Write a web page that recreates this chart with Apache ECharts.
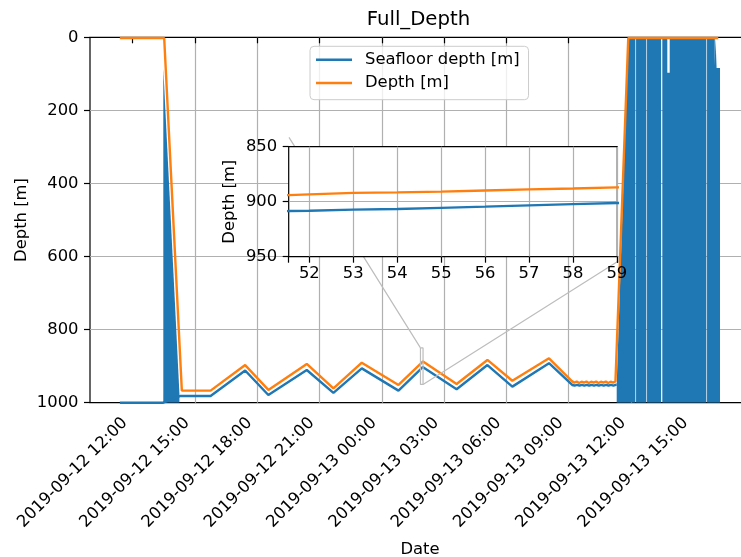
<!DOCTYPE html>
<html><head><meta charset="utf-8">
<script src="https://cdn.jsdelivr.net/npm/echarts@6/dist/echarts.min.js"></script>
<style>html,body{margin:0;padding:0;background:#fff}#c{width:741px;height:557px}</style>
</head><body><div id="c"></div>
<script>
// ---------------- data ----------------
const depthTimes = [
 '2019-09-12 11:23','2019-09-12 13:31','2019-09-12 14:22','2019-09-12 15:45','2019-09-12 17:25',
 '2019-09-12 18:32','2019-09-12 20:23','2019-09-12 21:40','2019-09-12 23:02','2019-09-13 00:48',
 '2019-09-13 01:51:32','2019-09-13 01:52','2019-09-13 01:53','2019-09-13 01:54','2019-09-13 01:55',
 '2019-09-13 01:56','2019-09-13 01:57','2019-09-13 01:58','2019-09-13 01:59','2019-09-13 02:00',
 '2019-09-13 03:36','2019-09-13 05:05','2019-09-13 06:17','2019-09-13 08:03','2019-09-13 09:09',
 '2019-09-13 09:16','2019-09-13 09:23','2019-09-13 09:30','2019-09-13 09:37','2019-09-13 09:44',
 '2019-09-13 09:51','2019-09-13 09:58','2019-09-13 10:05','2019-09-13 10:12','2019-09-13 10:19',
 '2019-09-13 10:26','2019-09-13 10:33','2019-09-13 10:40','2019-09-13 10:47','2019-09-13 10:54',
 '2019-09-13 11:01','2019-09-13 11:08','2019-09-13 11:15','2019-09-13 11:19',
 '2019-09-13 11:52','2019-09-13 16:12'];
const depthValues = [
 2,2,967,967,897,
 965,894,961,890.5,951.5,
 894,893.3,892,891.5,890.8,
 889.8,888.8,888,887,886.5,
 948.8,883,940,878.5,941,
 945,942,946,942.5,945,
 942,946,942.5,945,942,
 946,942.5,945,942,946,
 942.5,945,942,943,
 2,2];

const seafloorTimes = [
 '2019-09-12 11:23','2019-09-12 13:28','2019-09-12 14:18','2019-09-12 15:45','2019-09-12 17:25',
 '2019-09-12 18:32','2019-09-12 20:23','2019-09-12 21:40','2019-09-12 23:02','2019-09-13 00:48',
 '2019-09-13 01:51:32','2019-09-13 01:52','2019-09-13 01:53','2019-09-13 01:54','2019-09-13 01:55',
 '2019-09-13 01:56','2019-09-13 01:57','2019-09-13 01:58','2019-09-13 01:59','2019-09-13 02:00',
 '2019-09-13 03:36','2019-09-13 05:05','2019-09-13 06:17','2019-09-13 08:03','2019-09-13 09:10',
 '2019-09-13 09:17','2019-09-13 09:24','2019-09-13 09:31','2019-09-13 09:38','2019-09-13 09:45',
 '2019-09-13 09:52','2019-09-13 09:59','2019-09-13 10:06','2019-09-13 10:13','2019-09-13 10:20',
 '2019-09-13 10:27','2019-09-13 10:34','2019-09-13 10:41','2019-09-13 10:48','2019-09-13 10:55',
 '2019-09-13 11:02','2019-09-13 11:09','2019-09-13 11:16','2019-09-13 11:18:36'];
const seafloorValues = [
 1000,1000,981.5,981.5,912,
 979,910.5,973,906,967,
 908.5,908.2,907.2,906.6,905.6,
 904.5,903.3,902.2,901.2,900.5,
 963,897,956,892,951.5,
 953,951,953.5,951,953,
 951,953.5,951,953,951,
 953.5,951,953,951,953.5,
 951,953,951,951];

// dense seafloor spikes (alternating surface/bottom readings) seen as filled blue blocks; top edge of the block
const spikeLeftTimes = ['2019-09-12 13:28:25','2019-09-12 14:15'];
const spikeLeftTops  = [85, 975];
const spikeRightTimes = [
 '2019-09-13 11:18:36','2019-09-13 11:52','2019-09-13 12:12:34','2019-09-13 12:13:34','2019-09-13 12:14:34',
 '2019-09-13 12:44:18','2019-09-13 12:45:18','2019-09-13 12:46:18','2019-09-13 13:26:55','2019-09-13 13:28:40',
 '2019-09-13 13:30:25','2019-09-13 13:44:49','2019-09-13 13:44:49','2019-09-13 13:51:46','2019-09-13 13:51:46',
 '2019-09-13 15:37:42','2019-09-13 15:38:42','2019-09-13 15:39:42','2019-09-13 16:02','2019-09-13 16:02',
 '2019-09-13 16:04','2019-09-13 16:04','2019-09-13 16:07:19','2019-09-13 16:07:19','2019-09-13 16:17:09'];
const spikeRightTops = [
 951,0,0,null,0,
 0,null,0,0,null,
 0,0,97,97,0,
 0,null,0,0,80,
 80,0,0,84,84];

// axes / ticks
const xTickHours = [12,15,18,21,24,27,30,33,36,39];   // hours after 2019-09-12 00:00
const yTicks = [0,200,400,600,800,1000];
const mainHourRange = [9.9435, 41.73];
const insetMinuteRange = [51.53, 59.01];              // minutes after 2019-09-13 01:00
const insetDepthRange = [850, 950];
const connectorEndTimes = ['2019-09-12 19:31:40','2019-09-13 11:22:24'];
const connectorEndDepths = [274, 613];

// ---------------- helpers ----------------
function toHours(s){
  const [d,t] = s.split(' ');
  const day = +d.split('-')[2];
  const p = t.split(':').map(Number);
  return (day-12)*24 + p[0] + p[1]/60 + (p[2]||0)/3600;
}
const pair = (ts, vs) => ts.map((t,i) => [toHours(t), vs[i] == null ? '-' : vs[i]]);
const toInset = arr => arr.map(p => [(p[0]-25)*60, p[1]]);
const pad2 = n => (n<10?'0':'')+n;
const hourLabel = v => { const h=Math.round(v); return '2019-09-'+(12+Math.floor(h/24))+' '+pad2(h%24)+':00'; };

const seafloor = pair(seafloorTimes, seafloorValues);
const depth = pair(depthTimes, depthValues);
const boxH0 = 25 + insetMinuteRange[0]/60, boxH1 = 25 + insetMinuteRange[1]/60;
const boxData = [[boxH0,insetDepthRange[0]],[boxH1,insetDepthRange[0]],[boxH1,insetDepthRange[1]],[boxH0,insetDepthRange[1]],[boxH0,insetDepthRange[0]]];
const connData = [[boxH0,insetDepthRange[0]],[toHours(connectorEndTimes[0]),connectorEndDepths[0]],['-','-'],
                  [boxH1,insetDepthRange[1]],[toHours(connectorEndTimes[1]),connectorEndDepths[1]]];

const BLUE='#1f77b4', ORANGE='#ff7f0e', GRID='#b0b0b0', FONT='DejaVu Sans', FS=16.4;
const tickOf = vals => ({show:true, length:6, customValues:vals, lineStyle:{color:'#000', width:1.2}});
const tickPlain = {show:true, length:6, lineStyle:{color:'#000', width:1.2}};
const split = {show:true, showMinLine:false, showMaxLine:false, lineStyle:{color:GRID, width:1.2}};
const nameStyle = {fontFamily:FONT, fontSize:FS, color:'#000'};

const chart = echarts.init(document.getElementById('c'), null, {renderer:'canvas'});
chart.setOption({
  animation:false,
  textStyle:{fontFamily:FONT},
  title:{text:'Full_Depth', left:366.7, top:10, padding:0,
         textStyle:{fontFamily:FONT, fontSize:19.7, fontWeight:'normal', color:'#000'}},
  legend:{data:['Seafloor depth [m]','Depth [m]'], orient:'vertical', left:310, top:46.3,
          icon:'rect', padding:[4.4,9,7.7,6], itemWidth:36, itemHeight:2.4, itemGap:5.3,
          backgroundColor:'rgba(255,255,255,0.8)', borderColor:'#cccccc', borderWidth:1, borderRadius:4,
          textStyle:{fontFamily:FONT, fontSize:FS, color:'#000', lineHeight:18, padding:[0,0,0,8]}},
  grid:[
    {left:90, top:37.3, right:-9, bottom:154.3, show:true, borderColor:'#000', borderWidth:1.2,
     backgroundColor:'transparent', containLabel:false, outerBoundsMode:'none'},
    {left:288.7, top:146.7, width:328.6, height:110, show:true, backgroundColor:'#fff', borderColor:'#000',
     borderWidth:1.2, z:5, containLabel:false, outerBoundsMode:'none'}
  ],
  xAxis:[
    {type:'value', gridIndex:0, min:mainHourRange[0], max:mainHourRange[1],
     minInterval:3, maxInterval:3, splitNumber:10,
     name:'Date', nameLocation:'middle', nameGap:139, nameMoveOverlap:false, nameTextStyle:nameStyle,
     axisLine:{show:false}, axisTick:tickOf(xTickHours), splitLine:split,
     axisLabel:{customValues:xTickHours, rotate:45, margin:10, padding:[0,11,0,0], fontFamily:FONT, fontSize:FS,
       color:'#000', hideOverlap:false, formatter:hourLabel}},
    {type:'value', gridIndex:1, min:insetMinuteRange[0], max:insetMinuteRange[1],
     minInterval:1, maxInterval:1, splitNumber:8, z:6,
     axisLine:{show:false}, axisTick:tickPlain, splitLine:split,
     axisLabel:{margin:9, fontFamily:FONT, fontSize:FS, color:'#000',
       formatter:v=> Math.abs(v-Math.round(v))<1e-6 ? String(Math.round(v)) : ''}}
  ],
  yAxis:[
    {type:'value', gridIndex:0, inverse:true, min:0, max:1000, interval:200,
     name:'Depth [m]', nameLocation:'middle', nameGap:60, nameMoveOverlap:false, nameTextStyle:nameStyle,
     axisLine:{show:false}, axisTick:tickOf(yTicks), splitLine:split,
     axisLabel:{customValues:yTicks, margin:11.5, fontFamily:FONT, fontSize:FS, color:'#000', formatter:v=>String(v)}},
    {type:'value', gridIndex:1, inverse:true, min:insetDepthRange[0], max:insetDepthRange[1], interval:50, z:6,
     name:'Depth [m]', nameLocation:'middle', nameGap:50.5, nameMoveOverlap:false, nameTextStyle:nameStyle,
     axisLine:{show:false}, axisTick:tickPlain, splitLine:split,
     axisLabel:{margin:11.5, fontFamily:FONT, fontSize:FS, color:'#000', formatter:v=>String(v)}}
  ],
  series:[
    {name:'Seafloor depth [m]', type:'line', xAxisIndex:0, yAxisIndex:0, data:seafloor, symbol:'none',
     lineStyle:{color:BLUE, width:2.4}, itemStyle:{color:BLUE}, z:2, silent:true},
    {name:'seafloor spikes (left)', type:'line', xAxisIndex:0, yAxisIndex:0, data:pair(spikeLeftTimes, spikeLeftTops),
     symbol:'none', lineStyle:{width:0, color:BLUE}, areaStyle:{color:BLUE, opacity:1, origin:'end'}, z:2, silent:true},
    {name:'seafloor spikes (right)', type:'line', xAxisIndex:0, yAxisIndex:0, data:pair(spikeRightTimes, spikeRightTops),
     symbol:'none', connectNulls:false, lineStyle:{width:0, color:BLUE}, areaStyle:{color:BLUE, opacity:1, origin:'end'}, z:2, silent:true},
    {name:'Depth [m]', type:'line', xAxisIndex:0, yAxisIndex:0, data:depth, symbol:'none',
     lineStyle:{color:ORANGE, width:2.4}, itemStyle:{color:ORANGE}, z:2, silent:true},
    {name:'zoom box', type:'line', xAxisIndex:0, yAxisIndex:0, data:boxData, symbol:'none',
     lineStyle:{color:'#bdbdbd', width:1.2}, z:3, silent:true},
    {name:'zoom connectors', type:'line', xAxisIndex:0, yAxisIndex:0, data:connData, symbol:'none', connectNulls:false,
     lineStyle:{color:'#bdbdbd', width:1.2}, z:3, silent:true},
    {name:'Seafloor depth [m]', type:'line', xAxisIndex:1, yAxisIndex:1, data:toInset(seafloor), symbol:'none', clip:true,
     lineStyle:{color:BLUE, width:2.4}, itemStyle:{color:BLUE}, z:7, silent:true},
    {name:'Depth [m]', type:'line', xAxisIndex:1, yAxisIndex:1, data:toInset(depth), symbol:'none', clip:true,
     lineStyle:{color:ORANGE, width:2.4}, itemStyle:{color:ORANGE}, z:7, silent:true}
  ]
});
</script></body></html>
